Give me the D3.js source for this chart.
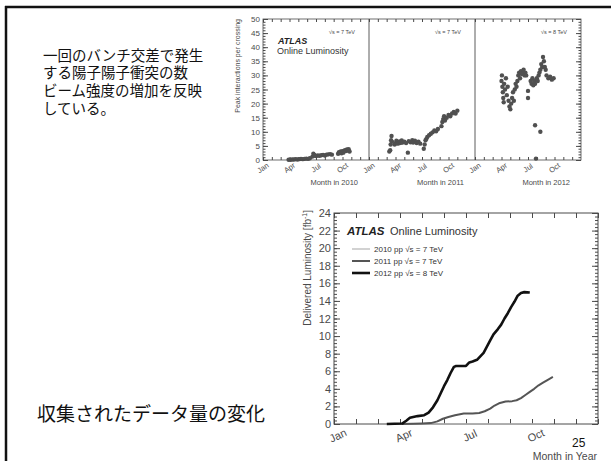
<!DOCTYPE html>
<html>
<head>
<meta charset="utf-8">
<script src="https://cdn.jsdelivr.net/npm/d3@7"></script>
<style>
  body { margin: 0; background: #fff; }
  svg { display: block; }
  text { font-family: "Liberation Sans", Arial, sans-serif; }
  .jp { font-family: "Noto Sans CJK JP", sans-serif; }
</style>
</head>
<body>
<svg id="slide" width="611" height="461"></svg>
<script>
// ---- data ----
const captionLines = ['一回のバンチ交差で発生', 'する陽子陽子衝突の数', 'ビーム強度の増加を反映', 'している。'];
const bottomCaption = '収集されたデータ量の変化';
const pageNumber = '25';

const monthLabels = ['Jan', 'Apr', 'Jul', 'Oct'];
const monthTicks = [0, 3, 6, 9];
const years = [2010, 2011, 2012];
const energies = ['7', '7', '8'];
const peakTicks = [0, 5, 10, 15, 20, 25, 30, 35, 40, 45, 50];
const lumiTicks = [0, 2, 4, 6, 8, 10, 12, 14, 16, 18, 20, 22, 24];

// peak interactions per crossing: [month in year, value]
const peak2010 = [[2.9, 0.1], [3.1, 0.1], [3.3, 0.2], [3.5, 0.2], [3.7, 0.3], [3.9, 0.2], [4.1, 0.3], [4.3, 0.4],
  [4.5, 0.3], [4.7, 0.4], [4.9, 0.5], [5.1, 0.4], [5.3, 0.6], [5.6, 1.2], [5.7, 2.2], [5.8, 1.8], [5.9, 1.5],
  [6.0, 1.4], [6.2, 1.6], [6.4, 1.5], [6.6, 1.7], [6.8, 1.8], [7.0, 1.6], [7.2, 1.9], [7.4, 2.0], [7.6, 2.1],
  [7.8, 1.9], [8.5, 2.2], [8.6, 2.8], [8.7, 2.5], [8.8, 3.0], [8.9, 2.4], [9.0, 3.1], [9.1, 2.6], [9.2, 3.3],
  [9.3, 3.5], [9.4, 3.2], [9.5, 3.7], [9.6, 3.4], [9.7, 3.8], [9.8, 3.0]];
const peak2011 = [[2.3, 3.0], [2.4, 3.5], [2.45, 5.5], [2.5, 7.0], [2.55, 8.5], [2.6, 6.5], [2.9, 5.5], [3.0, 6.0],
  [3.1, 6.8], [3.2, 5.8], [3.3, 6.4], [3.4, 5.9], [3.5, 6.6], [3.6, 6.1], [3.7, 6.9], [3.8, 6.2], [4.0, 6.5],
  [4.2, 6.0], [4.4, 2.6], [4.5, 6.7], [4.7, 6.3], [4.9, 7.0], [5.0, 6.2], [5.2, 6.8], [5.4, 6.0], [5.6, 6.5],
  [5.8, 5.8], [6.2, 4.0], [6.3, 5.5], [6.4, 7.0], [6.5, 7.5], [6.6, 8.2], [6.8, 8.8], [7.0, 9.3], [7.2, 9.8],
  [7.4, 10.5], [7.6, 10.2], [7.8, 11.0], [8.2, 12.0], [8.3, 13.5], [8.4, 14.5], [8.5, 15.5], [8.6, 14.0],
  [8.8, 15.0], [9.0, 16.0], [9.2, 15.5], [9.4, 16.5], [9.6, 17.0], [9.8, 16.5], [10.0, 17.5]];
const peak2012 = [[3.0, 28], [3.05, 30], [3.1, 26], [3.15, 24], [3.2, 22], [3.25, 20.5], [3.3, 27], [3.4, 25],
  [3.5, 29], [3.6, 23], [3.7, 26], [3.8, 21], [3.9, 19], [4.0, 18], [4.1, 20], [4.2, 22], [4.3, 24], [4.4, 21],
  [4.5, 25], [4.6, 27], [4.7, 26], [4.8, 28], [4.9, 30], [5.0, 31], [5.1, 29], [5.2, 31.5], [5.3, 30.5],
  [5.4, 31], [5.5, 32], [5.6, 30], [5.7, 31], [5.8, 30], [6.0, 24.5], [6.0, 22.0], [6.3, 28], [6.4, 27],
  [6.5, 29], [6.6, 26.5], [6.7, 28], [6.8, 27], [6.8, 12.3], [6.9, 0.5], [7.0, 29], [7.1, 28], [7.2, 30],
  [7.3, 31], [7.4, 10.0], [7.4, 32], [7.5, 34], [7.6, 33], [7.7, 36.5], [7.8, 35], [7.9, 33], [8.0, 32],
  [8.1, 30], [8.3, 29], [8.5, 29.5], [8.7, 28.5], [8.9, 29]];

// delivered luminosity [fb^-1]: [month in year, value]
const lumi2010 = [[2.9, 0], [4.0, 0.001], [5.0, 0.003], [6.0, 0.005], [7.0, 0.01], [8.0, 0.02], [9.0, 0.03], [9.8, 0.045]];
const lumi2011 = [[3.1, 0], [3.6, 0.02], [4.0, 0.05], [4.4, 0.1], [4.7, 0.3], [4.95, 0.6], [5.2, 0.8], [5.5, 1.0],
  [5.9, 1.2], [6.3, 1.2], [6.6, 1.25], [6.85, 1.45], [7.1, 1.75], [7.3, 2.1], [7.5, 2.35], [7.8, 2.55],
  [8.1, 2.6], [8.3, 2.7], [8.5, 2.95], [8.7, 3.3], [8.9, 3.65], [9.1, 4.0], [9.3, 4.4], [9.5, 4.7],
  [9.7, 5.0], [9.95, 5.35]];
const lumi2012 = [[2.4, 0], [3.1, 0.05], [3.3, 0.4], [3.45, 0.7], [3.8, 0.9], [4.1, 1.0], [4.3, 1.3], [4.5, 1.9],
  [4.7, 2.7], [4.85, 3.5], [5.0, 4.3], [5.15, 5.0], [5.3, 5.8], [5.45, 6.5], [5.55, 6.6], [6.0, 6.6],
  [6.15, 7.0], [6.3, 7.1], [6.5, 7.3], [6.65, 7.7], [6.8, 8.1], [6.95, 8.8], [7.1, 9.5], [7.25, 10.2],
  [7.45, 10.8], [7.6, 11.3], [7.75, 12.0], [7.9, 12.6], [8.05, 13.3], [8.2, 13.9], [8.35, 14.6], [8.5, 14.9],
  [8.65, 15.0], [8.9, 14.95]];
const lumiNames = ['2010 pp √s = 7 TeV', '2011 pp √s = 7 TeV', '2012 pp √s = 8 TeV'];

const svg = d3.select('#slide');
const ink = '#4a4a4a';

// slide frame: top and left rule
svg.append('line').attr('x1', 5).attr('x2', 611).attr('y1', 7).attr('y2', 7)
  .attr('stroke', '#111').attr('stroke-width', 2.5);
svg.append('line').attr('x1', 6).attr('x2', 6).attr('y1', 6).attr('y2', 461)
  .attr('stroke', '#111').attr('stroke-width', 2.5);

// captions
const caption = svg.append('text').attr('class', 'jp').attr('font-size', 14.5).attr('fill', '#111');
captionLines.forEach((t, i) => {
  caption.append('tspan').attr('x', 43).attr('y', 60.5 + i * 17.7).text(t);
});
svg.append('text').attr('class', 'jp').attr('x', 37).attr('y', 421)
  .attr('font-size', 19).attr('fill', '#111').text(bottomCaption);

// strip default axis styling so everything looks like the ROOT plots
function tidy(g, size) {
  g.select('.domain').remove();
  g.selectAll('line').attr('stroke', ink);
  g.selectAll('text').attr('font-family', '"Liberation Sans", Arial, sans-serif')
    .attr('font-size', size).attr('fill', ink);
}

// ---- peak interactions per crossing ----
const peak = { left: 263, right: 581, top: 19, bottom: 160 };
const panelW = (peak.right - peak.left) / years.length;
const peakSeries = [peak2010, peak2011, peak2012];

const peakY = d3.scaleLinear().domain([0, 50]).range([peak.bottom, peak.top]);
const peakG = svg.append('g');

years.forEach((year, i) => {
  const x0 = peak.left + i * panelW;
  const px = d3.scaleLinear().domain([0, 12]).range([x0, x0 + panelW]);

  peakG.append('g').attr('transform', `translate(0,${peak.top})`)
    .call(d3.axisBottom(px).tickValues(d3.range(0, 12)).tickSize(3).tickSizeOuter(0).tickFormat(''))
    .call(g => tidy(g, 7));
  peakG.append('g').attr('transform', `translate(0,${peak.bottom})`)
    .call(d3.axisTop(px).tickValues(d3.range(0, 12)).tickSize(3).tickSizeOuter(0).tickFormat(''))
    .call(g => tidy(g, 7));

  const lab = peakG.append('g').attr('transform', `translate(0,${peak.bottom})`)
    .call(d3.axisBottom(px).tickValues(monthTicks).tickSize(0).tickSizeOuter(0)
      .tickFormat((d, j) => monthLabels[j]))
    .call(g => tidy(g, 7.5));
  lab.selectAll('text').attr('y', 0).attr('dy', 0).attr('text-anchor', 'middle')
    .attr('transform', 'translate(1,10) rotate(-35)');

  peakG.append('g').selectAll('circle')
    .data(peakSeries[i])
    .join('circle')
    .attr('cx', d => px(d[0]))
    .attr('cy', d => peakY(d[1]))
    .attr('r', 2.2)
    .attr('fill', '#505050');

  if (i > 0) {
    peakG.append('line').attr('x1', x0).attr('x2', x0).attr('y1', peak.top).attr('y2', peak.bottom)
      .attr('stroke', ink).attr('stroke-width', 0.9);
  }

  peakG.append('text').attr('x', x0 + panelW - 14).attr('y', 34).attr('text-anchor', 'end')
    .attr('font-size', 5.5).attr('fill', ink).text('√s = ' + energies[i] + ' TeV');

  peakG.append('text').attr('x', x0 + panelW - 11).attr('y', 185).attr('text-anchor', 'end')
    .attr('font-size', 7.5).attr('fill', ink).text('Month in ' + year);
});

peakG.append('g').attr('transform', `translate(${peak.left},0)`)
  .call(d3.axisLeft(peakY).tickValues(peakTicks).tickSize(-5).tickSizeOuter(0).tickPadding(3))
  .call(g => tidy(g, 8));
peakG.append('g').attr('transform', `translate(${peak.left},0)`)
  .call(d3.axisLeft(peakY).tickValues(d3.range(0, 51, 1)).tickSize(-2.5).tickSizeOuter(0).tickFormat(''))
  .call(g => tidy(g, 8));
peakG.append('g').attr('transform', `translate(${peak.right},0)`)
  .call(d3.axisRight(peakY).tickValues(peakTicks).tickSize(-5).tickSizeOuter(0).tickFormat(''))
  .call(g => tidy(g, 8));
peakG.append('g').attr('transform', `translate(${peak.right},0)`)
  .call(d3.axisRight(peakY).tickValues(d3.range(0, 51, 1)).tickSize(-2.5).tickSizeOuter(0).tickFormat(''))
  .call(g => tidy(g, 8));

peakG.append('rect').attr('x', peak.left).attr('y', peak.top)
  .attr('width', peak.right - peak.left).attr('height', peak.bottom - peak.top)
  .attr('fill', 'none').attr('stroke', ink).attr('stroke-width', 0.8);

peakG.append('text').attr('transform', `translate(240,${peak.top}) rotate(-90)`)
  .attr('text-anchor', 'end').attr('font-size', 7).attr('fill', ink)
  .text('Peak interactions per crossing');

peakG.append('text').attr('x', 278).attr('y', 44).attr('font-size', 9)
  .attr('font-weight', 'bold').attr('font-style', 'italic').attr('fill', '#222').text('ATLAS');
peakG.append('text').attr('x', 277).attr('y', 54).attr('font-size', 9)
  .attr('fill', '#333').text('Online Luminosity');

// ---- delivered luminosity ----
const lumi = { left: 334, right: 598, top: 213, bottom: 424 };
const lumiX = d3.scaleLinear().domain([0, 12]).range([lumi.left, lumi.right]);
const lumiY = d3.scaleLinear().domain([0, 24]).range([lumi.bottom, lumi.top]);
const lumiG = svg.append('g');

lumiG.append('g').attr('transform', `translate(0,${lumi.top})`)
  .call(d3.axisBottom(lumiX).tickValues(d3.range(0, 13)).tickSize(5).tickSizeOuter(0).tickFormat(''))
  .call(g => tidy(g, 11));
lumiG.append('g').attr('transform', `translate(0,${lumi.bottom})`)
  .call(d3.axisTop(lumiX).tickValues(d3.range(0, 13)).tickSize(5).tickSizeOuter(0).tickFormat(''))
  .call(g => tidy(g, 11));
const lumiLab = lumiG.append('g').attr('transform', `translate(0,${lumi.bottom})`)
  .call(d3.axisBottom(lumiX).tickValues(monthTicks).tickSize(0).tickSizeOuter(0)
    .tickFormat((d, j) => monthLabels[j]))
  .call(g => tidy(g, 11));
lumiLab.selectAll('text').attr('y', 0).attr('dy', 0).attr('text-anchor', 'middle')
  .attr('transform', 'translate(5,15) rotate(-25)');

lumiG.append('g').attr('transform', `translate(${lumi.left},0)`)
  .call(d3.axisLeft(lumiY).tickValues(lumiTicks).tickSize(-6).tickSizeOuter(0).tickPadding(3))
  .call(g => tidy(g, 11));
lumiG.append('g').attr('transform', `translate(${lumi.left},0)`)
  .call(d3.axisLeft(lumiY).tickValues(d3.range(0, 24.01, 0.4)).tickSize(-3).tickSizeOuter(0).tickFormat(''))
  .call(g => tidy(g, 11));
lumiG.append('g').attr('transform', `translate(${lumi.right},0)`)
  .call(d3.axisRight(lumiY).tickValues(lumiTicks).tickSize(-6).tickSizeOuter(0).tickFormat(''))
  .call(g => tidy(g, 11));
lumiG.append('g').attr('transform', `translate(${lumi.right},0)`)
  .call(d3.axisRight(lumiY).tickValues(d3.range(0, 24.01, 0.4)).tickSize(-3).tickSizeOuter(0).tickFormat(''))
  .call(g => tidy(g, 11));

lumiG.append('rect').attr('x', lumi.left).attr('y', lumi.top)
  .attr('width', lumi.right - lumi.left).attr('height', lumi.bottom - lumi.top)
  .attr('fill', 'none').attr('stroke', ink).attr('stroke-width', 1);

const lumiLine = d3.line().x(d => lumiX(d[0])).y(d => lumiY(d[1]));
const lumiSeries = [
  { data: lumi2010, color: '#b4b4b4', width: 1.2 },
  { data: lumi2011, color: '#555', width: 2 },
  { data: lumi2012, color: '#111', width: 2.6 }
];
lumiSeries.forEach((s, i) => {
  lumiG.append('path').datum(s.data).attr('d', lumiLine)
    .attr('fill', 'none').attr('stroke', s.color).attr('stroke-width', s.width)
    .attr('stroke-linejoin', 'round');

  const ly = 249 + i * 12;
  lumiG.append('line').attr('x1', 352).attr('x2', 370).attr('y1', ly).attr('y2', ly)
    .attr('stroke', s.color).attr('stroke-width', s.width);
  lumiG.append('text').attr('x', 374).attr('y', ly + 3).attr('font-size', 8)
    .attr('fill', '#333').text(lumiNames[i]);
});

lumiG.append('text').attr('x', 347).attr('y', 235).attr('font-size', 11.5)
  .attr('font-weight', 'bold').attr('font-style', 'italic').attr('fill', '#222').text('ATLAS');
lumiG.append('text').attr('x', 390).attr('y', 235).attr('font-size', 11)
  .attr('fill', '#333').text('Online Luminosity');

lumiG.append('text').attr('transform', `translate(311,${lumi.top - 3}) rotate(-90)`)
  .attr('text-anchor', 'end').attr('font-size', 10).attr('fill', ink)
  .text('Delivered Luminosity [fb')
  .append('tspan').attr('dy', -4).attr('font-size', 7).text('-1')
  .clone(true).attr('dy', 4).attr('font-size', 10).text(']');

lumiG.append('text').attr('x', 597).attr('y', 460).attr('text-anchor', 'end')
  .attr('font-size', 10.5).attr('fill', ink).text('Month in Year');

svg.append('text').attr('x', 572).attr('y', 447).attr('font-size', 12)
  .attr('fill', '#111').text(pageNumber);
</script>
</body>
</html>
